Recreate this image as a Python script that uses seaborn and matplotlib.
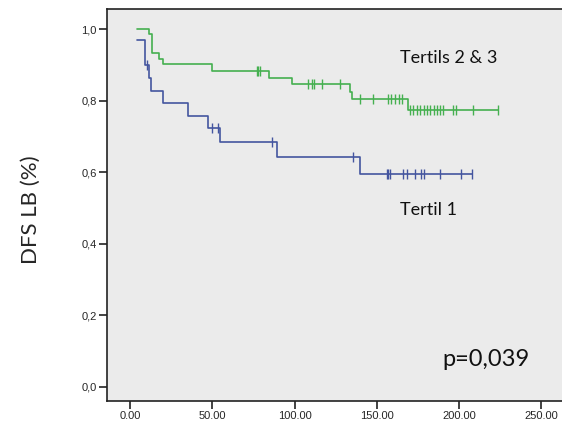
import numpy as np
import pandas as pd
import matplotlib
matplotlib.use("Agg")
import matplotlib.pyplot as plt
import seaborn as sns

# Kaplan-Meier steps
green_time = [4.2, 11.7, 13.2, 17.7, 20.3, 50.1, 84.6, 98.6, 133.7, 134.9, 169.1, 223.8]
green_surv = [1.0, 0.986, 0.934, 0.917, 0.902, 0.882, 0.864, 0.846, 0.825, 0.804, 0.774, 0.774]
green_cens = [77.3, 78.0, 78.7, 108.0, 110.6, 111.8, 116.6, 127.6, 139.7, 147.5, 156.7,
              158.6, 161.0, 163.4, 165.2, 170.1, 172.0, 174.4, 176.2, 178.6, 180.4, 182.3,
              184.7, 186.5, 188.3, 190.2, 196.4, 198.1, 208.6, 223.8]

blue_time = [4.2, 9.1, 11.7, 12.6, 20.3, 35.0, 47.6, 54.7, 89.5, 139.5, 207.6]
blue_surv = [0.968, 0.900, 0.863, 0.828, 0.794, 0.758, 0.724, 0.683, 0.642, 0.596, 0.596]
blue_cens = [10.5, 49.6, 53.7, 86.1, 135.5, 156.3, 157.0, 157.7, 166.0, 168.1, 173.1,
             176.6, 178.6, 188.3, 200.9, 207.6]

x_ticks = [0, 50, 100, 150, 200, 250]
x_labels = ["0.00", "50.00", "100.00", "150.00", "200.00", "250.00"]
y_ticks = [0.0, 0.2, 0.4, 0.6, 0.8, 1.0]
y_labels = ["0,0", "0,2", "0,4", "0,6", "0,8", "1,0"]

GREEN = "#45b050"
BLUE = "#44559f"


def censor_frame(times, surv, cens):
    idx = np.searchsorted(times, cens, side="right") - 1
    return pd.DataFrame({"t": cens, "s": np.asarray(surv)[idx]})


sns.set_theme(style="ticks")
plt.rcParams["font.family"] = ["Lato", "DejaVu Sans"]

fig = plt.figure(figsize=(5.62, 4.23), dpi=100)
ax = fig.add_axes([0.191, 0.0527, 0.809, 0.926])
ax.set_facecolor("#ebebeb")

for times, surv, cens, col in [(green_time, green_surv, green_cens, GREEN),
                               (blue_time, blue_surv, blue_cens, BLUE)]:
    df = pd.DataFrame({"t": times, "s": surv})
    sns.lineplot(data=df, x="t", y="s", drawstyle="steps-post", color=col,
                 linewidth=1.2, ax=ax, estimator=None, sort=False)
    cf = censor_frame(times, surv, cens)
    sns.scatterplot(data=cf, x="t", y="s", marker="|", s=55, color=col,
                    linewidth=1.0, ax=ax)

ax.set_xlim(-13.8, 262.5)
ax.set_ylim(-0.039, 1.056)
ax.set_xticks(x_ticks)
ax.set_xticklabels(x_labels, family=["Liberation Sans"], fontsize=8)
ax.set_yticks(y_ticks)
ax.set_yticklabels(y_labels, family=["Liberation Sans"], fontsize=8)
ax.tick_params(axis="both", direction="out", length=5.5, width=1.2, color="#222222", pad=2)
ax.set_xlabel("")
ax.set_ylabel("DFS LB (%)", fontsize=16)
ax.yaxis.set_label_coords(-0.146, 0.487)
for side in ["left", "bottom", "top"]:
    ax.spines[side].set_color("#222222")
    ax.spines[side].set_linewidth(1.2)
ax.spines["right"].set_visible(False)

ax.text(164.0, 0.919, "Tertils 2 & 3", fontsize=13, va="center", ha="left", color="#111111")
ax.text(164.0, 0.494, "Tertil 1", fontsize=13, va="center", ha="left", color="#111111")
ax.text(190.0, 0.075, "p=0,039", fontsize=17, va="center", ha="left", color="#111111")

fig.savefig("out.png", dpi=100)
